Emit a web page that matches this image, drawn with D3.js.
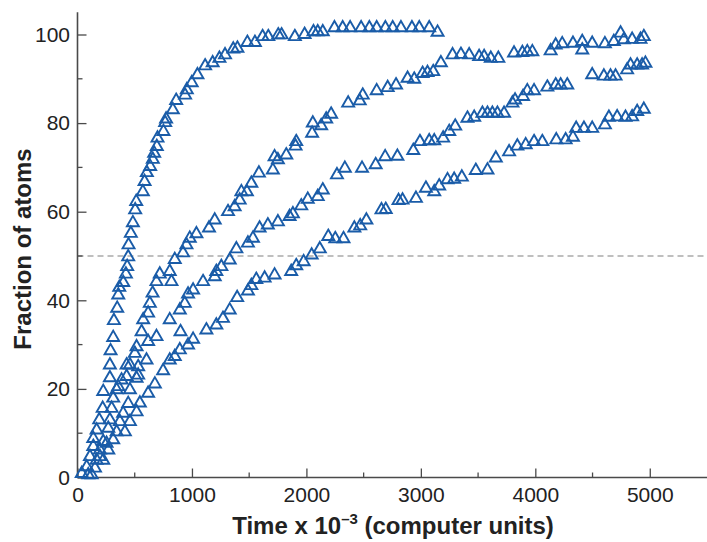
<!DOCTYPE html>
<html>
<head>
<meta charset="utf-8">
<script src="https://cdn.jsdelivr.net/npm/d3@7"></script>
<style>
  html, body { margin: 0; padding: 0; background: #fff; }
  svg { display: block; }
</style>
</head>
<body>
<svg id="chart" width="707" height="542"></svg>
<script>
// Time values are in units of 10^3 computer steps; values are % of atoms.
const seriesA = [
  [37,0.9],[80,2.4],[109,4.7],[138,7.0],[138,8.8],[167,10.7],[190,13.0],[220,15.6],[225,19.4],
  [283,22.5],[283,25.4],[289,28.6],[312,31.6],[318,35.4],[347,38.2],[356,41.2],[365,42.9],
  [400,44.0],[423,45.9],[434,47.6],[443,49.8],[446,52.5],[466,55.1],[484,57.5],[504,60.4],
  [513,62.3],[571,64.5],[586,66.8],[606,68.8],[635,70.2],[658,71.8],[670,73.2],[693,74.7],
  [699,76.6],[751,78.1],[766,80.1],[774,80.9],[833,83.0],[862,85.1],[940,86.3],[955,87.5],
  [998,89.1],[1048,90.9],[1115,92.9],[1181,93.6],[1240,94.6],[1289,95.4],[1361,96.7],
  [1397,96.9],[1484,98.2],[1550,98.2],[1617,99.5],[1667,99.5],[1754,99.9],[1783,99.9],
  [1899,99.5],[1984,100.0],[2062,100.6],[2099,100.6],[2143,100.6],[2245,101.5],[2317,101.5],
  [2382,101.5],[2478,101.5],[2550,101.5],[2614,101.5],[2690,101.5],[2754,101.5],[2826,101.5],
  [2922,101.5],[2986,101.5],[3073,101.5],[3146,100.5]
];

const seriesB = [
  [94,0.6],[167,3.9],[196,6.2],[225,8.1],[269,11.1],[283,13.0],[298,15.6],[312,17.9],[342,19.8],
  [356,20.5],[385,22.0],[429,22.8],[429,25.4],[458,25.4],[501,28.0],[516,29.5],[560,32.9],
  [574,35.6],[617,37.1],[632,39.3],[656,41.6],[690,44.2],[719,45.9],[806,46.5],[821,44.2],
  [850,49.2],[922,50.7],[952,52.5],[981,54.0],[1039,55.0],[1149,56.3],[1199,58.1],[1315,60.0],
  [1373,61.1],[1417,62.6],[1432,64.5],[1480,64.5],[1519,66.4],[1585,68.7],[1707,69.4],
  [1722,72.4],[1751,71.7],[1824,72.8],[1905,74.8],[1911,75.8],[2050,77.7],[2056,80.0],
  [2129,79.4],[2173,80.9],[2216,82.0],[2365,84.5],[2466,85.0],[2492,86.3],[2614,87.3],
  [2710,88.0],[2783,88.6],[2884,90.1],[2942,89.9],[3015,91.2],[3058,91.4],[3108,91.6],
  [3175,93.6],[3277,95.4],[3350,95.5],[3422,95.4],[3509,95.0],[3553,95.0],[3611,94.6],
  [3677,94.6],[3814,95.8],[3887,95.9],[3930,96.1],[3974,96.1],[4134,96.3],[4178,97.6],
  [4235,97.9],[4329,98.0],[4410,98.4],[4410,96.5],[4497,98.0],[4608,97.9],[4686,98.4],
  [4745,100.3],[4773,98.8],[4846,98.9],[4919,98.9],[4948,99.5]
];

const seriesC = [
  [124,0.6],[196,4.7],[254,7.7],[342,10.3],[370,12.6],[399,14.5],[443,16.7],[458,19.8],
  [516,22.4],[530,23.1],[530,25.0],[603,26.5],[617,30.7],[690,31.8],[806,35.6],[894,37.8],
  [900,32.9],[937,39.3],[966,41.4],[1010,42.3],[1097,44.2],[1199,45.3],[1213,46.5],[1257,47.6],
  [1330,49.1],[1388,51.6],[1489,52.9],[1533,54.0],[1591,56.3],[1663,57.0],[1751,57.7],
  [1853,58.9],[1882,59.5],[1955,61.3],[2012,62.8],[2099,63.4],[2143,64.9],[2267,68.3],
  [2336,69.8],[2486,69.8],[2605,70.6],[2688,72.4],[2795,72.5],[2934,73.8],[2992,75.8],
  [3073,76.0],[3117,76.0],[3195,76.6],[3248,78.1],[3300,79.3],[3407,81.1],[3466,81.3],
  [3538,82.2],[3582,82.2],[3625,82.2],[3669,82.2],[3727,82.2],[3800,84.5],[3823,85.2],
  [3893,86.0],[3930,87.3],[3989,87.3],[4105,88.1],[4178,88.6],[4221,88.6],[4279,88.6],
  [4497,90.9],[4599,90.6],[4657,90.6],[4701,90.6],[4802,92.0],[4832,93.1],[4890,93.1],
  [4933,93.1],[4962,93.5]
];

const seriesD = [
  [153,2.1],[225,3.9],[269,6.2],[312,8.5],[414,10.3],[458,12.6],[516,14.8],[545,16.8],
  [617,19.0],[676,21.1],[748,24.1],[806,26.5],[850,27.3],[894,28.8],[966,29.9],[1010,31.2],
  [1126,33.3],[1213,34.4],[1271,35.9],[1330,37.8],[1395,40.6],[1489,42.1],[1519,43.3],
  [1562,44.7],[1635,45.0],[1722,45.7],[1867,46.5],[1911,47.8],[1976,48.7],[2046,50.2],
  [2117,51.6],[2191,54.4],[2252,53.9],[2324,53.9],[2419,56.3],[2470,56.8],[2524,58.1],
  [2656,60.4],[2693,60.5],[2805,62.5],[2840,62.6],[2957,63.0],[3044,65.3],[3117,64.5],
  [3160,65.8],[3233,67.2],[3291,67.3],[3358,67.8],[3480,69.3],[3582,69.4],[3655,72.1],
  [3771,73.5],[3843,74.8],[3916,75.1],[3989,75.8],[4061,75.8],[4183,76.2],[4265,76.2],
  [4329,76.8],[4357,78.8],[4425,78.8],[4497,78.8],[4608,79.6],[4643,81.3],[4715,81.4],
  [4788,81.3],[4846,81.4],[4890,82.6],[4948,83.1]
];

const xTicks = [0, 1000, 2000, 3000, 4000, 5000];
const xMinorTicks = [500, 1500, 2500, 3500, 4500];
const yTicks = [0, 20, 40, 60, 80, 100];
const yMinorTicks = [10, 30, 50, 70, 90];
const halfLevel = 50;

const svg = d3.select("#chart");
const left = 77.5, right = 707, bottom = 477.5;

const x = d3.scaleLinear().domain([0, 5500]).range([left, right]);
const y = d3.scaleLinear().domain([0, 100]).range([bottom, 34.5]);
const yTop = y(105);

const axisColor = "#4a4a4a";
const markColor = "#1a5ca8";
const font = "'Liberation Sans', Arial, Helvetica, sans-serif";

// 50% reference line
svg.append("line")
  .attr("x1", x(0)).attr("x2", right)
  .attr("y1", y(halfLevel)).attr("y2", y(halfLevel))
  .attr("stroke", "#aaaaaa").attr("stroke-width", 1.4)
  .attr("stroke-dasharray", "6,4");

// X axis: ticks point up into the plot
const xAxis = svg.append("g").attr("transform", `translate(0,${bottom})`);
xAxis.call(d3.axisBottom(x).tickValues(xTicks).tickSizeInner(-9).tickSizeOuter(0)
  .tickFormat(d3.format("d")));
xAxis.selectAll(".minor").data(xMinorTicks).enter().append("line")
  .attr("class", "minor")
  .attr("x1", d => x(d)).attr("x2", d => x(d))
  .attr("y1", 0).attr("y2", -5)
  .attr("stroke", axisColor).attr("stroke-width", 1.3);
xAxis.select(".domain").attr("stroke", axisColor).attr("stroke-width", 1.6)
  .attr("d", `M${left},0H${right}`);
xAxis.selectAll(".tick line").attr("stroke", axisColor).attr("stroke-width", 1.3);
xAxis.selectAll(".tick text")
  .attr("font-family", font).attr("font-size", 21).attr("fill", "#222")
  .attr("dy", null).attr("y", 24);

// Y axis: ticks point right into the plot
const yAxis = svg.append("g").attr("transform", `translate(${left},0)`);
yAxis.call(d3.axisLeft(y).tickValues(yTicks).tickSizeInner(-9).tickSizeOuter(0));
yAxis.selectAll(".minor").data(yMinorTicks).enter().append("line")
  .attr("class", "minor")
  .attr("x1", 0).attr("x2", 5)
  .attr("y1", d => y(d)).attr("y2", d => y(d))
  .attr("stroke", axisColor).attr("stroke-width", 1.3);
yAxis.select(".domain").attr("stroke", axisColor).attr("stroke-width", 1.6)
  .attr("d", `M0,${bottom}V${yTop}`);
yAxis.selectAll(".tick line").attr("stroke", axisColor).attr("stroke-width", 1.3);
yAxis.selectAll(".tick text")
  .attr("font-family", font).attr("font-size", 21).attr("fill", "#222")
  .attr("x", -7.5);

// Open triangle markers for every series
const tri = d3.symbol().type(d3.symbolTriangle).size(62);
[seriesA, seriesB, seriesC, seriesD].forEach(series => {
  svg.append("g").selectAll("path").data(series).enter().append("path")
    .attr("d", tri)
    .attr("transform", d => `translate(${x(d[0])},${y(d[1])})`)
    .attr("fill", "none")
    .attr("stroke", markColor)
    .attr("stroke-width", 1.9)
    .attr("stroke-linejoin", "miter");
});

// Axis titles
svg.append("text")
  .attr("x", 393).attr("y", 534)
  .attr("text-anchor", "middle")
  .attr("font-family", font).attr("font-size", 24).attr("font-weight", "bold")
  .attr("fill", "#222")
  .call(t => {
    t.append("tspan").text("Time x 10");
    t.append("tspan").attr("dy", -10).attr("font-size", 15).text("\u20133");
    t.append("tspan").attr("dy", 10).text(" (computer units)");
  });

svg.append("text")
  .attr("transform", "translate(31,249) rotate(-90)")
  .attr("text-anchor", "middle")
  .attr("font-family", font).attr("font-size", 24).attr("font-weight", "bold")
  .attr("fill", "#222")
  .text("Fraction of atoms");
</script>
</body>
</html>
